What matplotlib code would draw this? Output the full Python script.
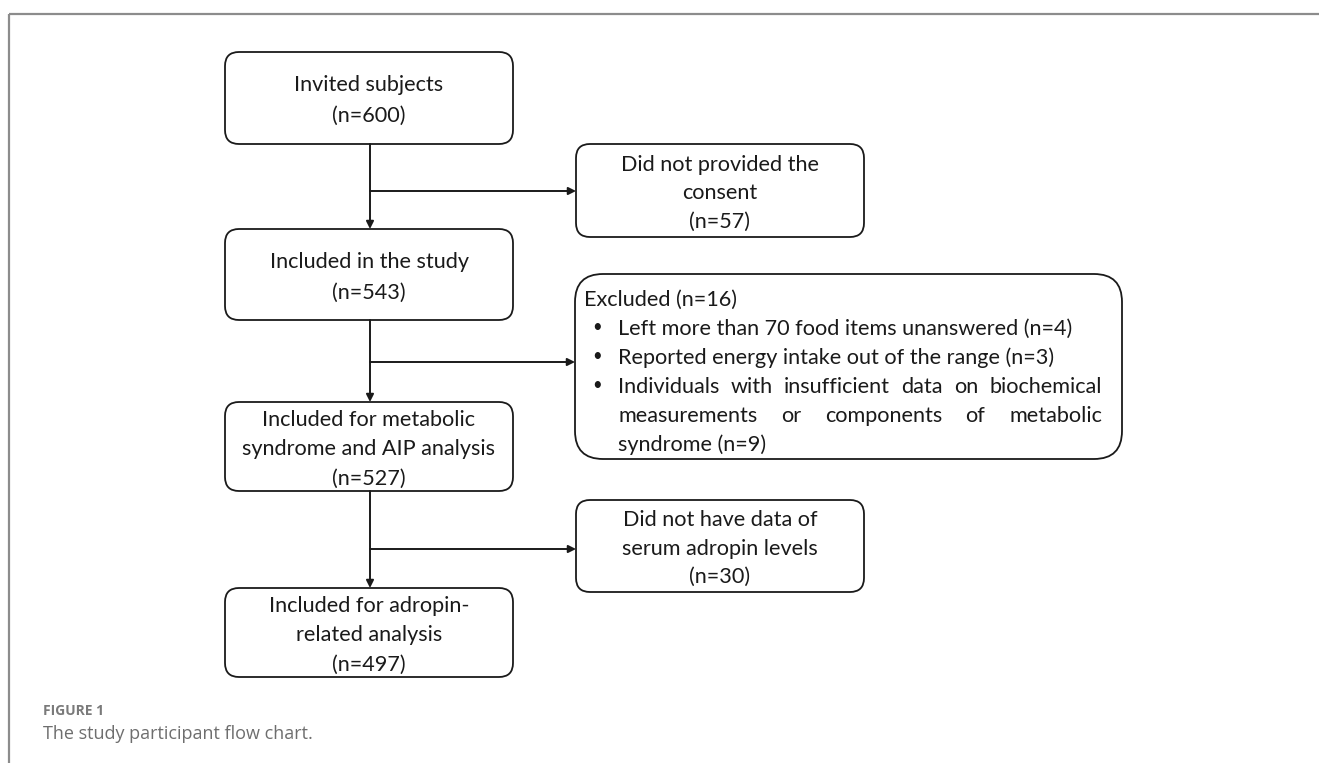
import matplotlib
matplotlib.use("Agg")
import matplotlib.pyplot as plt
from matplotlib.patches import FancyBboxPatch

W, H = 1319, 763

# chart content
main_steps = ["Invited subjects", "Included in the study",
              "Included for metabolic\nsyndrome and AIP analysis",
              "Included for adropin-\nrelated analysis"]
main_n = [600, 543, 527, 497]
side_steps = ["Did not provided the\nconsent", "Excluded",
              "Did not have data of\nserum adropin levels"]
side_n = [57, 16, 30]
reasons = ["Left more than 70 food items unanswered",
           "Reported energy intake out of the range",
           "Individuals with insufficient data on biochemical\nmeasurements or components of metabolic\nsyndrome"]
reason_n = [4, 3, 9]
caption_head = "FIGURE 1"
caption = "The study participant flow chart."

# layout in pixels (x, y, w, h)
main_boxes = [(225, 52, 288, 92), (225, 229, 288, 91),
              (225, 402, 288, 89), (225, 588, 288, 89)]
side_boxes = [(576, 144, 288, 93), (575, 274, 547, 185), (576, 500, 288, 92)]
branch_y = [191, 362, 549]
spine_x = 370

FONT = ["Lato", "DejaVu Sans"]
INK = "#1a1a1a"
FS = 15.6
HALF_CAP = 7.8   # px, puts the cap height centred on the line position
LINE = 29.5

fig = plt.figure(figsize=(W / 100, H / 100), dpi=100)
ax = fig.add_axes([0, 0, 1, 1])
ax.set_xlim(0, W)
ax.set_ylim(H, 0)
ax.axis("off")

# frame (top and left only)
ax.plot([9, W], [14, 14], color="#8c8c8c", lw=1.6, solid_capstyle="butt")
ax.plot([9, 9], [14, H], color="#8c8c8c", lw=1.6, solid_capstyle="butt")


def box(x, y, w, h, r=14):
    p = FancyBboxPatch((x, y), w, h, boxstyle=f"round,pad=0,rounding_size={r}",
                       fc="white", ec=INK, lw=1.3, zorder=2)
    ax.add_patch(p)


def arrow(x0, y0, x1, y1):
    ax.annotate("", xy=(x1, y1), xytext=(x0, y0),
                arrowprops=dict(arrowstyle="-|>", color=INK, lw=1.4,
                                mutation_scale=11, shrinkA=0, shrinkB=0),
                zorder=3)


def centred_lines(x, y, w, h, text, spacing=LINE):
    lines = text.split("\n")
    mid = y + h / 2 + 1
    top = mid - spacing * (len(lines) - 1) / 2
    for k, ln in enumerate(lines):
        ax.text(x + w / 2, top + k * spacing + HALF_CAP, ln, ha="center",
                va="baseline", fontsize=FS, family=FONT, color=INK, zorder=4)


# main column
for (x, y, w, h), label, n in zip(main_boxes, main_steps, main_n):
    box(x, y, w, h)
    centred_lines(x, y, w, h, f"{label}\n(n={n})",
                  spacing=31 if "\n" not in label else LINE)

for (x, y, w, h), (_, y2, _, _) in zip(main_boxes[:-1], main_boxes[1:]):
    arrow(spine_x, y + h, spine_x, y2)

# side branches
for by, (sx, sy, sw, sh) in zip(branch_y, side_boxes):
    arrow(spine_x, by, sx, by)

for i, ((x, y, w, h), label, n) in enumerate(zip(side_boxes, side_steps, side_n)):
    if i == 1:
        box(x, y, w, h, r=28)
        continue
    box(x, y, w, h)
    centred_lines(x, y, w, h, f"{label}\n(n={n})", spacing=28.5)

# excluded box content
ex, ey, ew, eh = side_boxes[1]
line_h = 29.0
fig.canvas.draw()
renderer = fig.canvas.get_renderer()
kw = dict(fontsize=FS, family=FONT, color=INK, va="baseline", zorder=4)
y0 = 298
ax.text(ex + 9, y0 + HALF_CAP, f"{side_steps[1]} (n={side_n[1]})", **kw)

bullet_x, text_x, right_x = ex + 22, ex + 43, 1102
row = 1
for reason, n in zip(reasons, reason_n):
    lines = f"{reason} (n={n})".split("\n")
    for j, line in enumerate(lines):
        y = y0 + row * line_h + HALF_CAP
        if j == 0:
            ax.text(bullet_x, y - HALF_CAP, "\u2022", ha="center", fontsize=12,
                    family=FONT, color=INK, va="center", zorder=4)
        words = line.split(" ")
        if j < len(lines) - 1 and len(words) > 1:
            # justified line
            texts = [ax.text(0, y, wd, **kw) for wd in words]
            widths = [t.get_window_extent(renderer).width for t in texts]
            gap = (right_x - text_x - sum(widths)) / (len(words) - 1)
            xx = text_x
            for t, wdt in zip(texts, widths):
                t.set_x(xx)
                xx += wdt + gap
        else:
            ax.text(text_x, y, line, **kw)
        row += 1

# caption
ax.text(43, 711, caption_head, fontsize=10, family=["Open Sans", "DejaVu Sans"],
        fontweight="bold", color="#7a7a7a", va="center")
ax.text(43, 734, caption, fontsize=13, family=["Open Sans", "DejaVu Sans"],
        color="#6e6e6e", va="center")

fig.savefig("out.png", dpi=100)
